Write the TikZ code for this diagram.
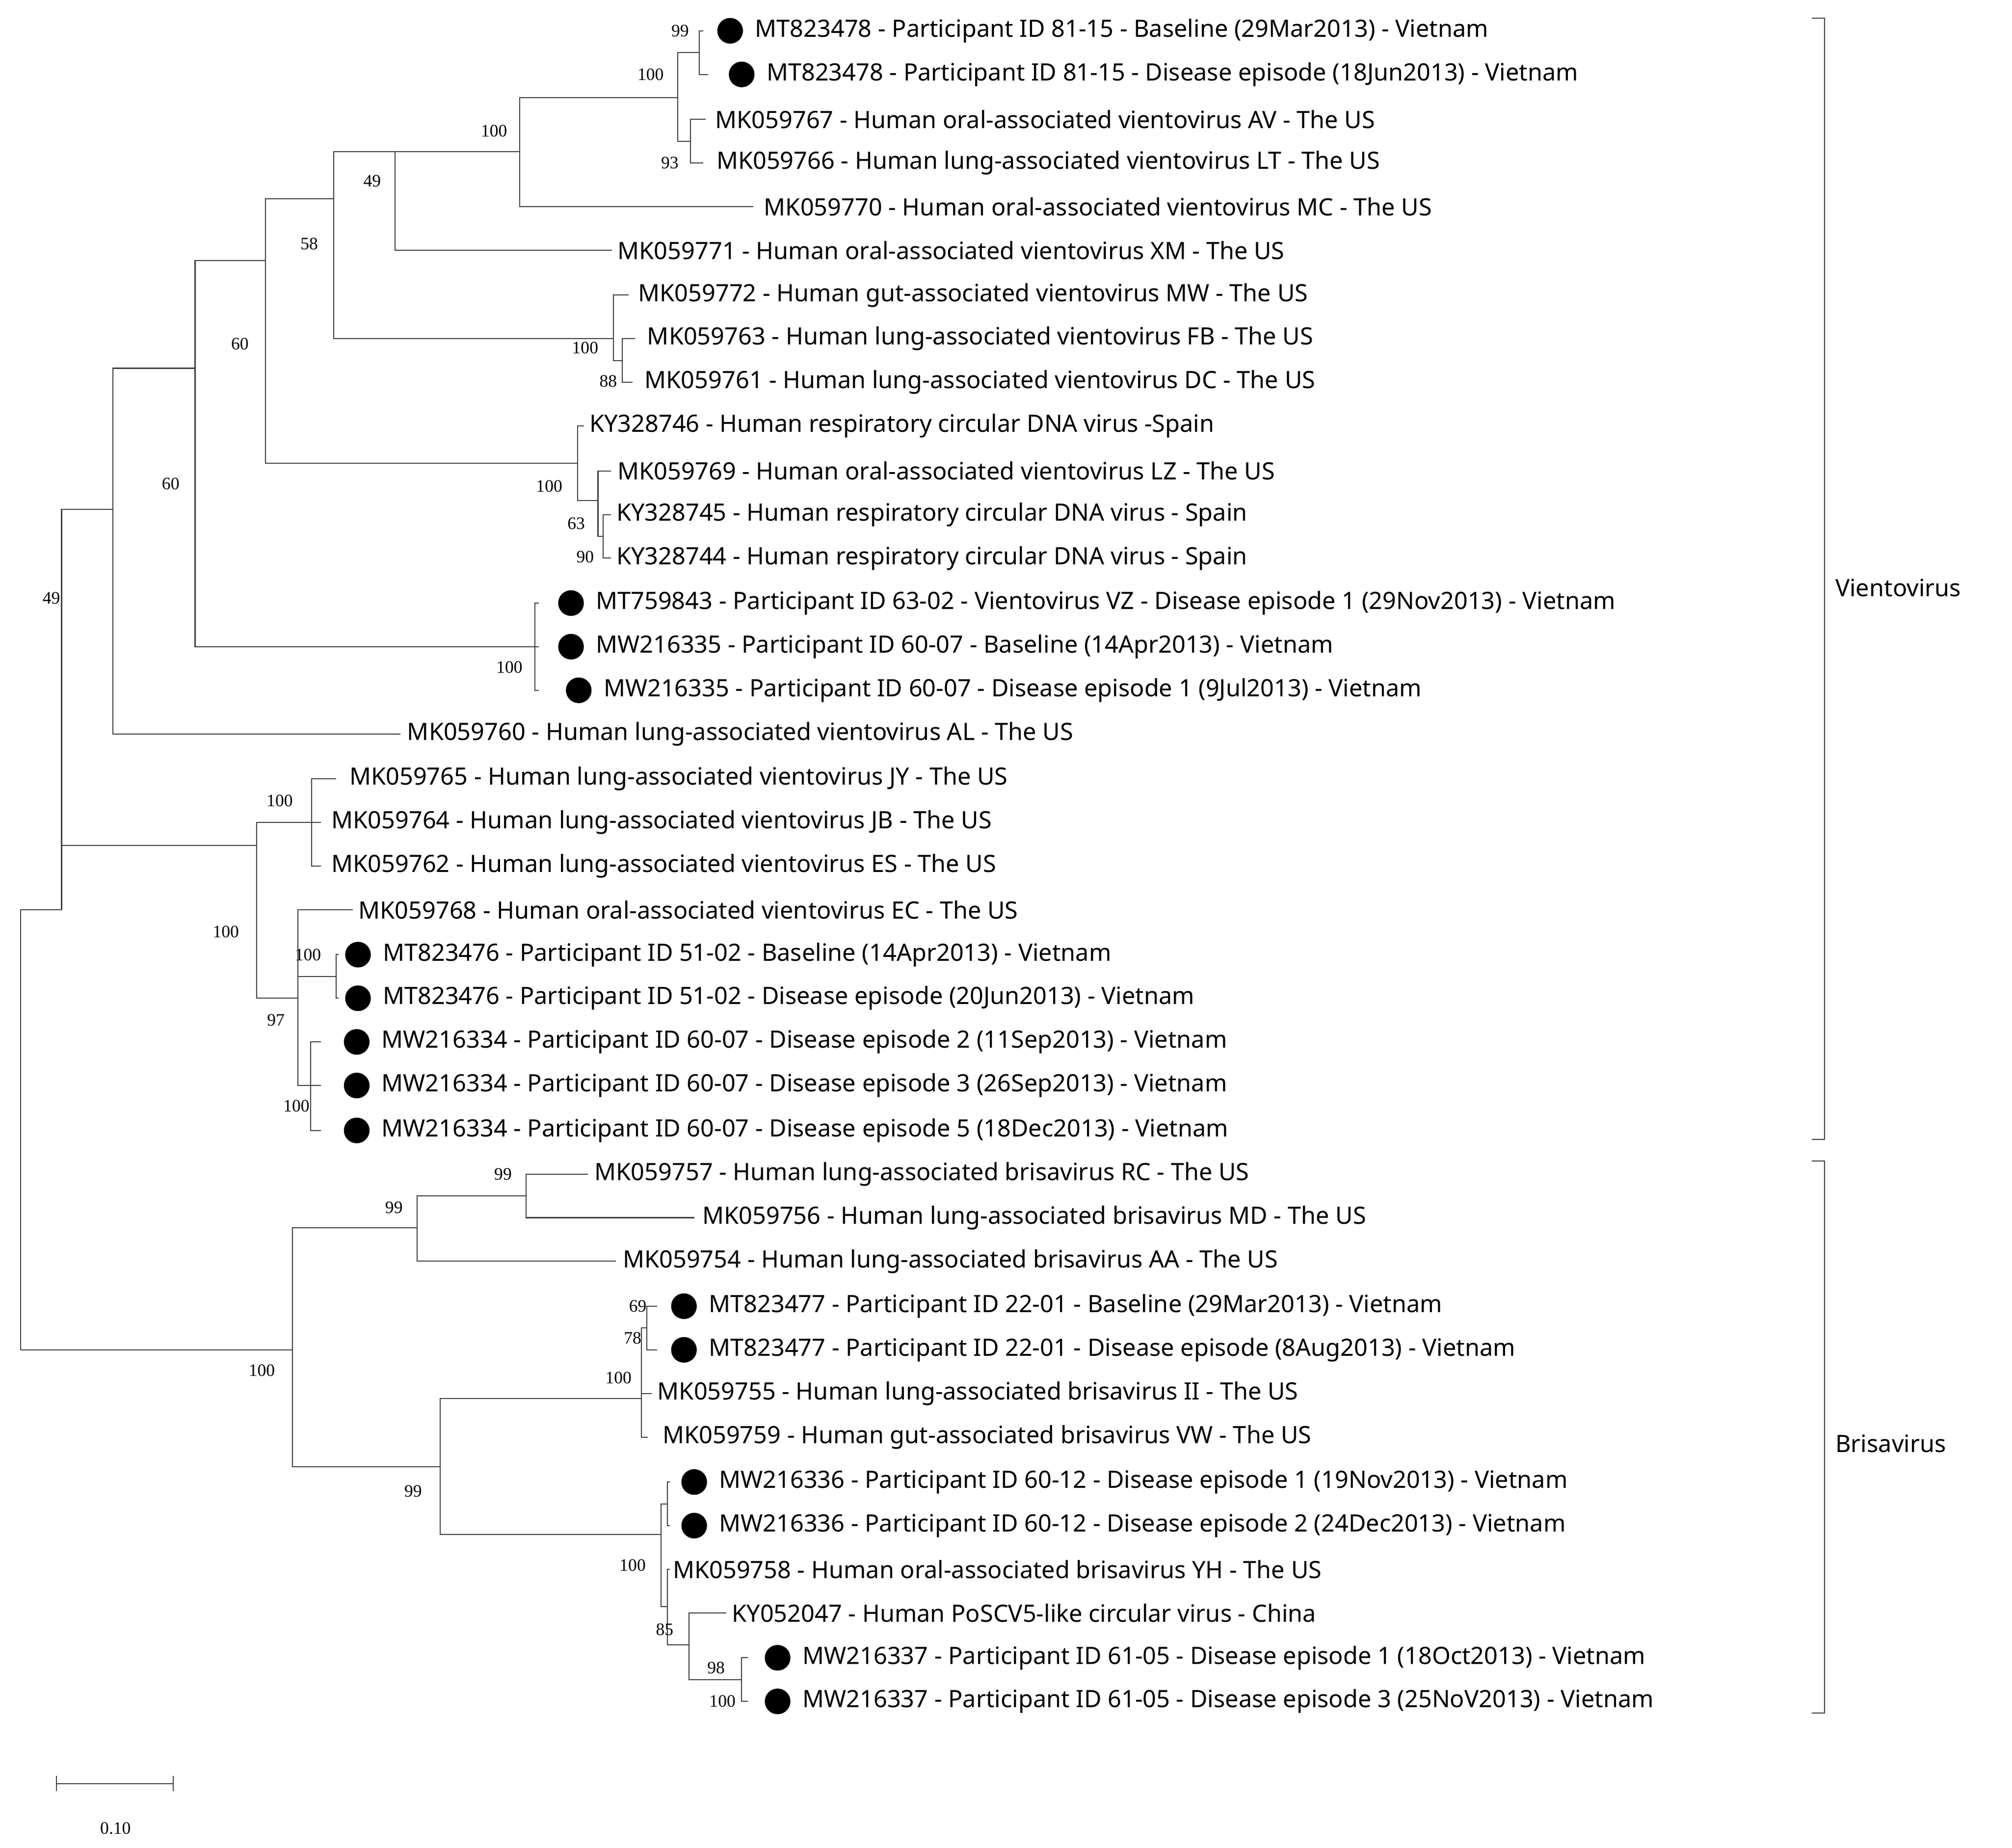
\documentclass[tikz,border=0pt]{standalone}
\usepackage{fontspec}
\setmainfont{Liberation Serif}
\newfontfamily\lsans{Noto Sans}
\begin{document}
\begin{tikzpicture}[x=0.5pt,y=-0.5pt,
  lab/.style={anchor=west,inner sep=0pt,font=\lsans\fontsize{9.3}{10}\selectfont},
  bs/.style={inner sep=0pt,font=\fontsize{6.8}{7}\selectfont},
  br/.style={line width=0.4pt,draw=black!75},
  cl/.style={font=\lsans\fontsize{9.3}{10}\selectfont,anchor=west,inner sep=0pt}]
\useasboundingbox (0,0) rectangle (1568,1440);
\newcommand\lf[5]{\coordinate (#1) at (#2,#3); \node[lab] (l#1) at (#4,#3) {#5};}
\newcommand\dl[5]{\coordinate (#1) at (#2,#3); \fill (#4-19,#3) circle (5pt); \node[lab] (l#1) at (#4,#3) {#5};}
% internal nodes
\coordinate (R) at (16,1052);
\coordinate (V) at (48,709);
\coordinate (A) at (88,397);
\coordinate (C) at (152,287);
\coordinate (D) at (207,203);
\coordinate (F) at (260,155);
\coordinate (J) at (308,118);
\coordinate (K) at (405,118);
\coordinate (L) at (528,76);
\coordinate (M) at (545,41);
\coordinate (N) at (538,110);
\coordinate (P) at (478,264);
\coordinate (Q) at (485,281);
\coordinate (G) at (450,361);
\coordinate (H) at (466,390);
\coordinate (I) at (470,418);
\coordinate (E) at (417,504);
\coordinate (W) at (200,659);
\coordinate (X) at (243,641);
\coordinate (Y) at (232,778);
\coordinate (Z) at (262,761);
\coordinate (Z2) at (242,846);
\coordinate (B) at (228,1052);
\coordinate (S) at (325,957);
\coordinate (U) at (410,932);
\coordinate (T) at (343,1143);
\coordinate (AA) at (500,1090);
\coordinate (AC) at (504,1035);
\coordinate (AB) at (515,1196);
\coordinate (AD) at (520,1172);
\coordinate (AB2) at (520,1252);
\coordinate (AE) at (537,1282);
\coordinate (AG) at (578,1309);
% leaves
\dl{t1}{548}{24}{588}{MT823478 - Participant ID 81-15 - Baseline (29Mar2013) - Vietnam}
\dl{t2}{552}{58}{597}{MT823478 - Participant ID 81-15 - Disease episode (18Jun2013) - Vietnam}
\lf{t3}{550}{93}{557}{MK059767 - Human oral-associated vientovirus AV - The US}
\lf{t4}{548}{127}{558}{MK059766 - Human lung-associated vientovirus LT - The US}
\lf{t5}{587}{161}{595}{MK059770 - Human oral-associated vientovirus MC - The US}
\lf{t6}{477}{195}{481}{MK059771 - Human oral-associated vientovirus XM - The US}
\lf{t7}{490}{230}{497}{MK059772 - Human gut-associated vientovirus MW - The US}
\lf{t8}{495}{264}{504}{MK059763 - Human lung-associated vientovirus FB - The US}
\lf{t9}{493}{298}{502}{MK059761 - Human lung-associated vientovirus DC - The US}
\lf{t10}{455}{332}{459}{KY328746 - Human respiratory circular DNA virus -Spain}
\lf{t11}{476}{367}{481}{MK059769 - Human oral-associated vientovirus LZ - The US}
\lf{t12}{476}{401}{480}{KY328745 - Human respiratory circular DNA virus - Spain}
\lf{t13}{476}{435}{480}{KY328744 - Human respiratory circular DNA virus - Spain}
\dl{t14}{420}{470}{464}{MT759843 - Participant ID 63-02 - Vientovirus VZ - Disease episode 1 (29Nov2013) - Vietnam}
\dl{t15}{420}{504}{464}{MW216335 - Participant ID 60-07 - Baseline (14Apr2013) - Vietnam}
\dl{t16}{420}{538}{470}{MW216335 - Participant ID 60-07 - Disease episode 1 (9Jul2013) - Vietnam}
\lf{t17}{312}{572}{317}{MK059760 - Human lung-associated vientovirus AL - The US}
\lf{t18}{262}{607}{272}{MK059765 - Human lung-associated vientovirus JY - The US}
\lf{t19}{250}{641}{258}{MK059764 - Human lung-associated vientovirus JB - The US}
\lf{t20}{250}{675}{258}{MK059762 - Human lung-associated vientovirus ES - The US}
\lf{t21}{275}{709}{279}{MK059768 - Human oral-associated vientovirus EC - The US}
\dl{t22}{264}{744}{298}{MT823476 - Participant ID 51-02 - Baseline (14Apr2013) - Vietnam}
\dl{t23}{264}{778}{298}{MT823476 - Participant ID 51-02 - Disease episode (20Jun2013) - Vietnam}
\dl{t24}{250}{812}{297}{MW216334 - Participant ID 60-07 - Disease episode 2 (11Sep2013) - Vietnam}
\dl{t25}{250}{846}{297}{MW216334 - Participant ID 60-07 - Disease episode 3 (26Sep2013) - Vietnam}
\dl{t26}{250}{881}{297}{MW216334 - Participant ID 60-07 - Disease episode 5 (18Dec2013) - Vietnam}
\lf{t27}{458}{915}{463}{MK059757 - Human lung-associated brisavirus RC - The US}
\lf{t28}{541}{949}{547}{MK059756 - Human lung-associated brisavirus MD - The US}
\lf{t29}{480}{983}{485}{MK059754 - Human lung-associated brisavirus AA - The US}
\dl{t30}{512}{1018}{552}{MT823477 - Participant ID 22-01 - Baseline (29Mar2013) - Vietnam}
\dl{t31}{512}{1052}{552}{MT823477 - Participant ID 22-01 - Disease episode (8Aug2013) - Vietnam}
\lf{t32}{508}{1086}{512}{MK059755 - Human lung-associated brisavirus II - The US}
\lf{t33}{505}{1120}{516}{MK059759 - Human gut-associated brisavirus VW - The US}
\dl{t34}{522}{1155}{560}{MW216336 - Participant ID 60-12 - Disease episode 1 (19Nov2013) - Vietnam}
\dl{t35}{522}{1189}{560}{MW216336 - Participant ID 60-12 - Disease episode 2 (24Dec2013) - Vietnam}
\lf{t36}{522}{1223}{524}{MK059758 - Human oral-associated brisavirus YH - The US}
\lf{t37}{566}{1257}{570}{KY052047 - Human PoSCV5-like circular virus - China}
\dl{t38}{583}{1292}{625}{MW216337 - Participant ID 61-05 - Disease episode 1 (18Oct2013) - Vietnam}
\dl{t39}{583}{1326}{625}{MW216337 - Participant ID 61-05 - Disease episode 3 (25NoV2013) - Vietnam}
% branches
\foreach \p/\c in {R/V,R/B,V/A,V/W,A/C,A/t17,C/D,C/E,D/F,D/G,F/J,F/P,J/K,J/t6,K/L,K/t5,L/M,L/N,M/t1,M/t2,N/t3,N/t4,
 P/t7,P/Q,Q/t8,Q/t9,G/t10,G/H,H/t11,H/I,I/t12,I/t13,E/t14,E/t15,E/t16,
 W/X,W/Y,X/t18,X/t19,X/t20,Y/t21,Y/Z,Y/Z2,Z/t22,Z/t23,Z2/t24,Z2/t25,Z2/t26,
 B/S,B/T,S/U,S/t29,U/t27,U/t28,T/AA,T/AB,AA/AC,AA/t32,AA/t33,AC/t30,AC/t31,
 AB/AD,AB/AB2,AD/t34,AD/t35,AB2/t36,AB2/AE,AE/t37,AE/AG,AG/t38,AG/t39}
 \draw[br] (\p) |- (\c);
% bootstrap
\foreach \x/\y/\t in {530/24/99,507/58/100,522/127/93,385/102/100,290/141/49,241/190/58,187/268/60,
 456/271/100,474/297/88,428/379/100,449/408/63,456/434/90,397/520/100,133/377/60,40/466/49,
 218/624/100,176/726/100,240/744/100,215/795/97,231/862/100,
 392/915/99,307/941/99,204/1068/100,497/1018/69,493/1043/78,482/1074/100,
 322/1162/99,493/1220/100,518/1270/85,558/1300/98,563/1326/100}
 \node[bs] at (\x,\y) {\t};
% clade brackets
\draw[br] (1412,14) -- (1422,14) -- (1422,888) -- (1412,888);
\node[cl] (cv) at (1430,458) {Vientovirus};
\draw[br] (1412,905) -- (1422,905) -- (1422,1335) -- (1412,1335);
\node[cl] (cb) at (1430,1125) {Brisavirus};
% scale bar
\coordinate (s1) at (44,1390); \coordinate (s2) at (135,1390);
\draw[br] (s1) -- (s2);
\draw[br] (44,1384) -- (44,1396); \draw[br] (135,1384) -- (135,1396);
\node[bs] (sl) at (90,1425) {0.10};
\end{tikzpicture}
\end{document}
